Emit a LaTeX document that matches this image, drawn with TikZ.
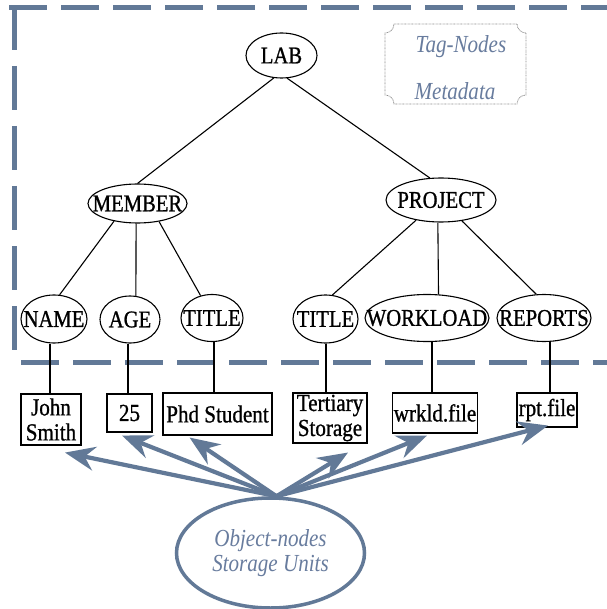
\documentclass[tikz,border=0pt]{standalone}
\usepackage{fontspec}
\setmainfont{Liberation Serif}[FakeStretch=0.86, FakeBold=0.9]
\newfontfamily\bluefont{Liberation Serif}[FakeStretch=0.86]
\usetikzlibrary{arrows.meta,shapes.geometric,calc}
\definecolor{slate}{RGB}{98,121,151}
\definecolor{slatetext}{RGB}{104,124,158}
\definecolor{dotgray}{RGB}{140,140,140}
\begin{document}
\begin{tikzpicture}[x=1pt,y=-1pt,
  tagtext/.style={inner sep=0pt, font=\fontsize{24}{25}\selectfont},
  tag/.style={draw, ellipse, line width=1.1pt, inner sep=0pt, label={[tagtext]center:#1}},
  obj/.style={draw, rectangle, line width=1.1pt, inner sep=0pt, align=center, font=\fontsize{24.5}{25}\selectfont},
  link/.style={line width=1.1pt},
  storearrow/.style={line width=4.2pt, draw=slate, -{Stealth[length=30pt,width=24pt,inset=10pt]}},
  boxline/.style={line width=5pt, draw=slate},
  bluetext/.style={text=slatetext, font=\bluefont\fontsize{24.5}{25}\selectfont\itshape, align=center}
]
\useasboundingbox (0,0) rectangle (606,609);
\fill[white] (0,0) rectangle (606,609);

% dashed frame
\draw[boxline, dash pattern=on 38pt off 14pt] (9,8) -- (612,8);
\draw[boxline, dash pattern=on 44pt off 16pt] (14.5,6) -- (14.5,356);
\draw[boxline, dash pattern=on 38pt off 14pt] (21,362) -- (612,362);

% legend box with concave corners
\draw[dotgray, line width=0.8pt, dash pattern=on 0.7pt off 0.7pt]
  (394,24) -- (517,24) arc[start angle=180, end angle=90, radius=9]
  -- (526,95) arc[start angle=270, end angle=180, radius=9]
  -- (394,104) arc[start angle=0, end angle=-90, radius=9]
  -- (385,33) arc[start angle=90, end angle=0, radius=9];
\node[bluetext] (tagnodes) at (461,47) {Tag-Nodes};
\node[bluetext] (metadata) at (455,91) {Metadata};

% tag nodes
\node[tag=LAB, minimum width=71pt, minimum height=45pt] (lab) at (281.5,55.5) {};
\node[tag=MEMBER, minimum width=99pt, minimum height=39pt] (member) at (137.5,203.5) {};
\node[tag=PROJECT, minimum width=110pt, minimum height=44pt] (project) at (441,200) {};
\node[tag=NAME, minimum width=66pt, minimum height=48pt] (name) at (54,319) {};
\node[tag=AGE, minimum width=60pt, minimum height=47pt] (age) at (130,319.5) {};
\node[tag=TITLE, minimum width=62pt, minimum height=47pt] (title1) at (212,318) {};
\node[tag=TITLE, minimum width=65pt, minimum height=48pt] (title2) at (325.5,319) {};
\node[tag=WORKLOAD, minimum width=124pt, minimum height=47pt] (workload) at (427,318) {};
\node[tag=REPORTS, minimum width=94pt, minimum height=47pt] (reports) at (544,318) {};

% tree links
\draw[link] (lab.251) -- (member.north);
\draw[link] (lab.284) -- (project.117);
\draw[link] (member.217) -- (name.77);
\draw[link] (member.266) -- (age.76);
\draw[link] (member.320) -- (title1.117);
\draw[link] (project.219) -- (title2.74);
\draw[link] (project.262) -- (workload.64);
\draw[link] (project.315) -- (reports.108);

% object boxes
\node[obj, minimum width=60pt, minimum height=51pt] (john) at (51,419.5) {John\\Smith};
\node[obj, minimum width=45pt, minimum height=38pt] (n25) at (129.5,413) {25};
\node[obj, minimum width=109pt, minimum height=42pt] (phd) at (217.5,414) {Phd Student};
\node[obj, minimum width=74pt, minimum height=50pt] (tert) at (330,418) {Tertiary\\Storage};
\node[obj, minimum width=85pt, minimum height=40pt] (wrkld) at (435,413) {wrkld.file};
\node[obj, minimum width=60pt, minimum height=34pt] (rpt) at (547,410) {rpt.file};

% tag to object links
\draw[link] ([xshift=-4pt]name.south) -- ([xshift=-4pt]name.south |- john.north);
\draw[link] ([xshift=-2pt]age.south) -- ([xshift=-2pt]age.south |- n25.north);
\draw[link] ([xshift=2pt]title1.south) -- ([xshift=2pt]title1.south |- phd.north);
\draw[link] ([xshift=0.5pt]title2.south) -- ([xshift=0.5pt]title2.south |- tert.north);
\draw[link] ([xshift=5pt]workload.south) -- ([xshift=5pt]workload.south |- wrkld.north);
\draw[link] ([xshift=6pt]reports.south) -- ([xshift=6pt]reports.south |- rpt.north);

% storage ellipse
\node[draw=slate, line width=3.5pt, ellipse, minimum width=188pt, minimum height=110pt, inner sep=0pt,
      label={[bluetext]center:Object-nodes\\Storage Units}] (store) at (270.5,553) {};

% arrows
\coordinate (src) at ([xshift=6pt]store.north);
\draw[storearrow] (src) -- ([shift={(14,7)}]john.south);
\draw[storearrow] (src) -- ([shift={(-7.5,3)}]n25.south);
\draw[storearrow] (src) -- ([shift={(-28,2)}]phd.south);
\draw[storearrow] (src) -- ([shift={(18,9)}]tert.south);
\draw[storearrow] (src) -- ([shift={(-8,2)}]wrkld.south);
\draw[storearrow] (src) -- ([shift={(1,-2)}]rpt.south);
\end{tikzpicture}
\end{document}
